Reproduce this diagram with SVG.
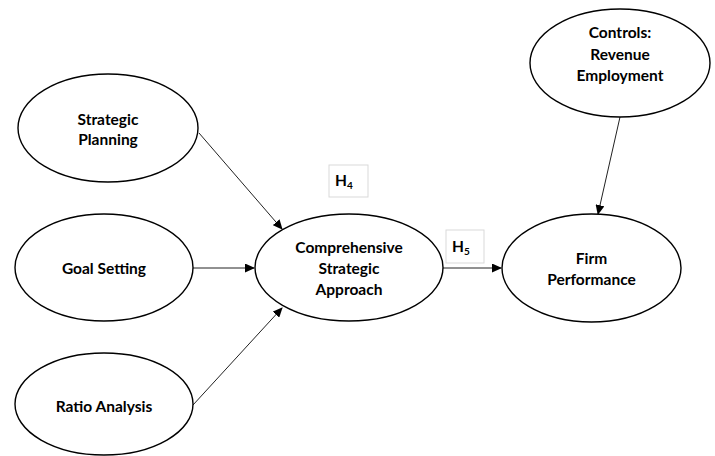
<svg xmlns="http://www.w3.org/2000/svg" width="715" height="456" viewBox="0 0 715 456">
<style>
.node ellipse{fill:#fff;stroke:#000;stroke-width:1.4}
.node text,.hyp text{font-family:Lato,"Open Sans","Liberation Sans",sans-serif;font-weight:bold;font-size:15.5px;fill:#000;text-anchor:middle}
.hyp rect{fill:#fff;stroke:#d9d9d9;stroke-width:1}
.conn line{stroke:#222;stroke-width:1;marker-end:url(#arr)}
</style>
<defs>
<marker id="arr" markerUnits="userSpaceOnUse" markerWidth="10" markerHeight="9" refX="9" refY="4.5" orient="auto">
<path d="M0,0 L10,4.5 L0,9 z" fill="#000"/>
</marker>
</defs>
<rect width="715" height="456" fill="#fff"/>
<g class="conn" id="connectors">
<line x1="199" y1="133" x2="282" y2="229"/>
<line x1="193" y1="268" x2="254" y2="268"/>
<line x1="193" y1="405" x2="282" y2="308"/>
<line x1="443" y1="268" x2="501" y2="268"/>
<line x1="620" y1="117" x2="598" y2="214"/>
</g>
<g class="node" id="strategic-planning">
<ellipse cx="108" cy="128" rx="90" ry="54"/>
<text x="108" y="125">Strategic</text>
<text x="108" y="145">Planning</text>
</g>
<g class="node" id="goal-setting">
<ellipse cx="104" cy="267.5" rx="89" ry="53.5"/>
<text x="104" y="274">Goal Setting</text>
</g>
<g class="node" id="ratio-analysis">
<ellipse cx="104" cy="404" rx="89" ry="51"/>
<text x="104" y="412">Ratio Analysis</text>
</g>
<g class="node" id="comprehensive">
<ellipse cx="349" cy="267.5" rx="94" ry="53.5"/>
<text x="349" y="253">Comprehensive</text>
<text x="349" y="274">Strategic</text>
<text x="349" y="295">Approach</text>
</g>
<g class="node" id="firm-performance">
<ellipse cx="591.5" cy="268" rx="89.5" ry="54"/>
<text x="591.5" y="264">Firm</text>
<text x="591.5" y="285">Performance</text>
</g>
<g class="node" id="controls">
<ellipse cx="620" cy="63" rx="90" ry="54"/>
<text x="620" y="38">Controls:</text>
<text x="620" y="60">Revenue</text>
<text x="620" y="81">Employment</text>
</g>
<g class="hyp" id="h4">
<rect x="329" y="165" width="39" height="32"/>
<text x="344" y="186">H<tspan font-size="10" dy="3">4</tspan></text>
</g>
<g class="hyp" id="h5">
<rect x="446" y="230" width="38" height="33"/>
<text x="461" y="252">H<tspan font-size="10" dy="3">5</tspan></text>
</g>
</svg>
